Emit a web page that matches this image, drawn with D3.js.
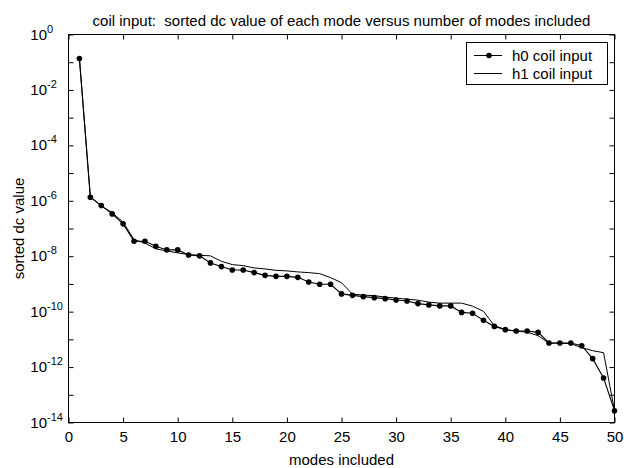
<!DOCTYPE html>
<html><head><meta charset="utf-8">
<script src="https://cdn.jsdelivr.net/npm/d3@7/dist/d3.min.js"></script>
<style>body{margin:0;background:#fff}svg{display:block}</style>
</head><body><svg id="c" width="624" height="468"></svg>
<script>
const modes = [1,2,3,4,5,6,7,8,9,10,11,12,13,14,15,16,17,18,19,20,21,22,23,24,25,26,27,28,29,30,31,32,33,34,35,36,37,38,39,40,41,42,43,44,45,46,47,48,49,50];
const h0 = [1.36e-1,1.34e-6,6.7e-7,3.37e-7,1.47e-7,3.45e-8,3.45e-8,2.28e-8,1.69e-8,1.69e-8,
  1.11e-8,1.03e-8,5.73e-9,4.22e-9,3.2e-9,3.2e-9,2.56e-9,2.04e-9,1.88e-9,1.88e-9,
  1.73e-9,1.18e-9,9.7e-10,9.7e-10,4.36e-10,3.87e-10,3.48e-10,3.2e-10,2.94e-10,2.64e-10,
  2.43e-10,1.95e-10,1.75e-10,1.61e-10,1.61e-10,9.4e-11,8.7e-11,4.85e-11,2.94e-11,2.24e-11,
  2.01e-11,2.01e-11,1.79e-11,7.4e-12,7.4e-12,7.4e-12,5.9e-12,2.01e-12,4.04e-13,2.67e-14];
const h1 = [1.36e-1,1.42e-6,6.44e-7,3.75e-7,1.7e-7,3.97e-8,2.97e-8,1.84e-8,1.55e-8,1.32e-8,
  1.14e-8,1.08e-8,1.03e-8,6.55e-9,4.98e-9,4.58e-9,3.78e-9,3.48e-9,3.1e-9,2.95e-9,
  2.71e-9,2.56e-9,2.35e-9,1.69e-9,1.11e-9,4.29e-10,3.94e-10,3.78e-10,3.34e-10,3.07e-10,
  2.82e-10,2.6e-10,2.2e-10,2.03e-10,2.03e-10,2.03e-10,1.58e-10,1.03e-10,3.13e-11,2.24e-11,
  1.98e-11,1.82e-11,1.36e-11,7.3e-12,7.3e-12,7.0e-12,5.0e-12,3.9e-12,3.3e-12,2.67e-14];
const xTicks = [0,5,10,15,20,25,30,35,40,45,50];
const yTicks = [1,1e-1,1e-2,1e-3,1e-4,1e-5,1e-6,1e-7,1e-8,1e-9,1e-10,1e-11,1e-12,1e-13,1e-14];
const yLabelExps = ["0","-2","-4","-6","-8","-10","-12","-14"];
const seriesNames = ["h0 coil input","h1 coil input"];
const title = "coil input:  sorted dc value of each mode versus number of modes included";
const xLabel = "modes included";
const yLabel = "sorted dc value";

const L=68.5,R=614.5,T=34.5,B=422.5;
const FONT = "'Liberation Sans', Arial, sans-serif";
const svg = d3.select("#c").style("font-family",FONT);
svg.append("rect").attr("width",624).attr("height",468).attr("fill","#fff");

const x = d3.scaleLinear().domain([0,50]).range([L,R]);
const y = d3.scaleLog().domain([1e-14,1]).range([B,T]);

// axes (ticks inward)
const ax = svg.append("g").attr("transform",`translate(0,${B})`)
  .call(d3.axisBottom(x).tickValues(xTicks).tickSize(-5).tickSizeOuter(0).tickPadding(9));
ax.selectAll("text").attr("font-size",15).attr("font-family",FONT).attr("fill","#000");
svg.append("g").attr("transform",`translate(0,${T})`)
  .call(d3.axisTop(x).tickValues(xTicks).tickSize(-5).tickSizeOuter(0).tickFormat(()=>""));
svg.append("g").attr("transform",`translate(${L},0)`)
  .call(d3.axisLeft(y).tickValues(yTicks).tickSize(-5).tickSizeOuter(0).tickFormat(()=>""));
svg.append("g").attr("transform",`translate(${R},0)`)
  .call(d3.axisRight(y).tickValues(yTicks).tickSize(-5).tickSizeOuter(0).tickFormat(()=>""));
svg.selectAll(".domain").remove();
svg.selectAll(".tick line").attr("stroke","#000");

// y labels with superscripts
yLabelExps.forEach(e=>{
  const v = Math.pow(10,+e);
  const yy = y(v);
  svg.append("text").attr("x",47).attr("y",yy+5).attr("text-anchor","end")
    .attr("font-size",15).text("10");
  svg.append("text").attr("x",47).attr("y",yy-2).attr("text-anchor","start")
    .attr("font-size",11).text(e);
});

svg.append("rect").attr("x",L).attr("y",T).attr("width",R-L).attr("height",B-T)
  .attr("fill","none").attr("stroke","#000").attr("stroke-width",1);

// data
const line = d3.line().x((d,i)=>x(modes[i])).y(d=>y(d));
svg.append("path").datum(h1).attr("d",line).attr("fill","none").attr("stroke","#000").attr("stroke-width",1);
svg.append("path").datum(h0).attr("d",line).attr("fill","none").attr("stroke","#000").attr("stroke-width",1.1);
svg.append("g").selectAll("circle").data(h0).join("circle")
  .attr("cx",(d,i)=>x(modes[i])).attr("cy",d=>y(d)).attr("r",2.8).attr("fill","#000");

// title and labels
svg.append("text").attr("x",(L+R)/2).attr("y",26).attr("text-anchor","middle").attr("font-size",15)
  .style("white-space","pre").attr("xml:space","preserve").text(title);
svg.append("text").attr("x",(L+R)/2).attr("y",465).attr("text-anchor","middle").attr("font-size",15).text(xLabel);
svg.append("text").attr("transform",`translate(24,${(T+B)/2}) rotate(-90)`).attr("text-anchor","middle")
  .attr("font-size",15).text(yLabel);

// legend
const lg = svg.append("g");
lg.append("rect").attr("x",466.5).attr("y",42.5).attr("width",141).attr("height",42)
  .attr("fill","#fff").attr("stroke","#000");
[55,73].forEach((ly,i)=>{
  lg.append("line").attr("x1",474).attr("x2",502).attr("y1",ly+0.5).attr("y2",ly+0.5).attr("stroke","#000");
  if(i===0) lg.append("circle").attr("cx",489).attr("cy",ly+0.5).attr("r",2.8).attr("fill","#000");
  lg.append("text").attr("x",512).attr("y",ly+5.5).attr("font-size",15).text(seriesNames[i]);
});
</script></body></html>
